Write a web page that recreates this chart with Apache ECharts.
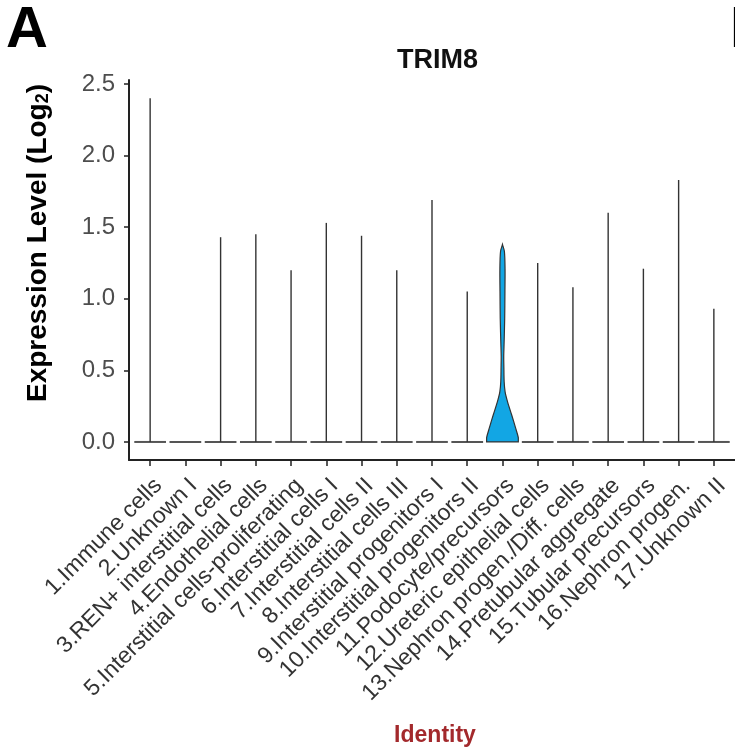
<!DOCTYPE html>
<html>
<head>
<meta charset="utf-8">
<title>TRIM8 violin</title>
<script src="https://cdn.jsdelivr.net/npm/echarts@6/dist/echarts.min.js"></script>
<style>
  html, body { margin: 0; padding: 0; background: #fff; }
  #chart { width: 735px; height: 750px; }
</style>
</head>
<body>
<div id="chart"></div>
<script>
// cell clusters on the x axis
var categories = [
  '1.Immune cells', '2.Unknown I', '3.REN+ interstitial cells', '4.Endothelial cells',
  '5.Interstitial cells-proliferating', '6.Interstitial cells I', '7.Interstitial cells II',
  '8.Interstitial cells III', '9.Interstitial progenitors I', '10.Interstitial progenitors II',
  '11.Podocyte/precursors', '12.Ureteric epithelial cells', '13.Nephron progen./Diff. cells',
  '14.Pretubular aggregate', '15.Tubular precursors', '16.Nephron progen.', '17.Unknown II'
];
// top of each violin (max expression)
var maxExpr = [2.40, 0, 1.43, 1.45, 1.20, 1.53, 1.44, 1.20, 1.69, 1.05, 1.38, 1.25, 1.08, 1.60, 1.21, 1.83, 0.93];
// violin 11 outline: level and half width (category units)
var podoLevels = [0, 0.03, 0.10, 0.19, 0.28, 0.35, 0.42, 0.52, 0.60, 0.68, 0.86, 1.05, 1.21, 1.33, 1.38];
var podoHalfWidth = [0.45, 0.45, 0.37, 0.26, 0.145, 0.075, 0.048, 0.04, 0.036, 0.045, 0.063, 0.07, 0.073, 0.055, 0.0];
var yTicks = [0, 0.5, 1.0, 1.5, 2.0, 2.5];
var xTicks = categories.map(function (c, i) { return i + 1; });

var violinWidth = 0.45;

var chart = echarts.init(document.getElementById('chart'));

function renderViolin(params, api) {
  var pos = api.value(0);
  var top = api.value(1);
  var children = [];
  if (pos === 11) {
    var right = [], left = [];
    for (var i = 0; i < podoLevels.length; i++) {
      right.push(api.coord([pos + podoHalfWidth[i], podoLevels[i]]));
      left.unshift(api.coord([pos - podoHalfWidth[i], podoLevels[i]]));
    }
    var pts = right.concat(left);
    var xs = pts.map(function (p) { return p[0]; });
    var ys = pts.map(function (p) { return p[1]; });
    var box = [[Math.min.apply(null, xs), Math.min.apply(null, ys)],
               [Math.max.apply(null, xs), Math.max.apply(null, ys)]];
    children.push({
      type: 'polygon',
      shape: { points: pts, smooth: 0.3, smoothConstraint: box },
      style: { fill: '#12a6e4', stroke: '#333', lineWidth: 1.2 }
    });
    return { type: 'group', children: children };
  }
  var a = api.coord([pos - violinWidth, 0]);
  var b = api.coord([pos + violinWidth, 0]);
  children.push({
    type: 'line',
    shape: { x1: a[0], y1: a[1], x2: b[0], y2: b[1] },
    style: { stroke: '#555', lineWidth: 2 }
  });
  if (top > 0) {
    var c = api.coord([pos, 0]);
    var d = api.coord([pos, top]);
    children.push({
      type: 'line',
      shape: { x1: c[0], y1: c[1], x2: d[0], y2: d[1] },
      style: { stroke: '#333', lineWidth: 1.4 }
    });
  }
  return { type: 'group', children: children };
}

var option = {
  animation: false,
  backgroundColor: '#fff',
  title: {
    text: 'TRIM8',
    left: 392,
    top: 42,
    textStyle: { fontFamily: 'Liberation Sans', fontSize: 27, fontWeight: 'bold', color: '#111' }
  },
  grid: { left: 129, right: -4, top: 80, bottom: 290 },
  xAxis: {
    type: 'value',
    min: 0.4,
    max: 17.6,
    axisLine: { onZero: false, lineStyle: { color: '#222', width: 2 } },
    axisTick: { length: 6, customValues: xTicks, lineStyle: { color: '#222', width: 1.5 } },
    splitLine: { show: false },
    axisLabel: {
      customValues: xTicks,
      rotate: 45,
      margin: 14,
      verticalAlign: 'top',
      fontFamily: 'Liberation Sans',
      fontSize: 23,
      color: '#333',
      formatter: function (v) { return categories[Math.round(v) - 1]; }
    }
  },
  yAxis: {
    type: 'value',
    min: -0.126,
    max: 2.528,
    axisLine: { show: true, lineStyle: { color: '#222', width: 2 } },
    axisTick: { show: true, length: 5, customValues: yTicks, lineStyle: { color: '#222', width: 1.5 } },
    splitLine: { show: false },
    axisLabel: {
      customValues: yTicks,
      margin: 14,
      fontFamily: 'Liberation Sans',
      fontSize: 24,
      color: '#4d4d4d',
      formatter: function (v) { return v.toFixed(1); }
    }
  },
  graphic: [
    {
      type: 'text', left: 6, top: 2,
      style: { text: 'A', font: 'bold 58px "Liberation Sans"', fill: '#000' }
    },
    {
      type: 'text', x: 730, y: 2,
      style: { text: 'B', font: 'bold 58px "Liberation Sans"', fill: '#000' }
    },
    {
      type: 'text', x: 38, y: 243, rotation: Math.PI / 2,
      style: {
        text: 'Expression Level (Log{sub|2})',
        font: 'bold 28px "Liberation Sans"',
        fill: '#000',
        align: 'center',
        verticalAlign: 'middle',
        rich: { sub: { fontSize: 18, fontWeight: 'bold', fontFamily: 'Liberation Sans', verticalAlign: 'bottom', padding: [10, 0, 0, 0] } }
      }
    },
    {
      type: 'text', x: 435, y: 736,
      style: {
        text: 'Identity',
        font: 'bold 23px "Liberation Sans"',
        fill: '#a3292c',
        align: 'center',
        verticalAlign: 'middle'
      }
    }
  ],
  series: [{
    type: 'custom',
    renderItem: renderViolin,
    data: maxExpr.map(function (m, i) { return [i + 1, m]; })
  }]
};

chart.setOption(option);
</script>
</body>
</html>
